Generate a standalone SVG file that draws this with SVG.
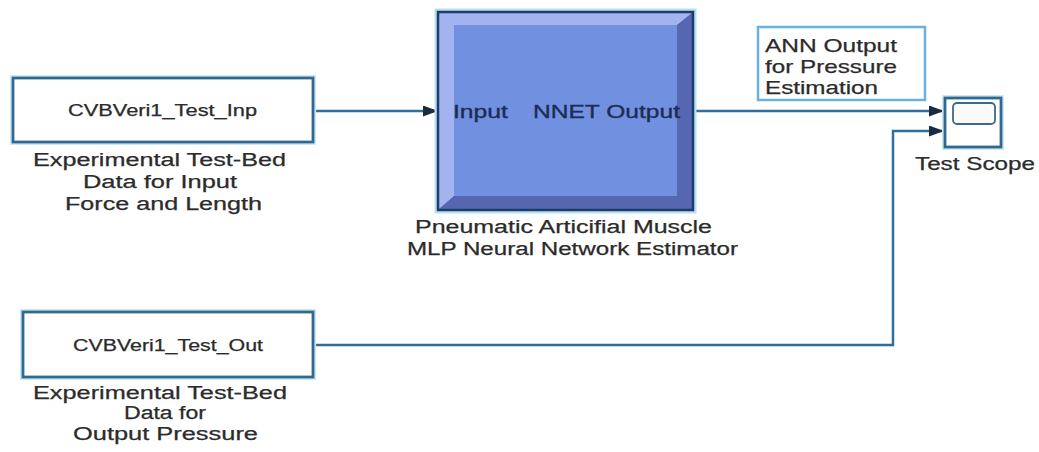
<svg xmlns="http://www.w3.org/2000/svg" width="1039" height="452" viewBox="0 0 1039 452">
<defs>
<style>
.t{font-family:"Liberation Sans",Arial,sans-serif;fill:#2b2b2b;stroke:#2b2b2b;stroke-width:0.25;}
.halo{fill:none;stroke:#cfe8f5;stroke-width:6;}
.box{fill:#fff;stroke:#2e6a8f;stroke-width:2.8;}
.wire{fill:none;stroke:#2e6f9c;stroke-width:2.5;}
.nn{font-family:"Liberation Sans",Arial,sans-serif;fill:#1c2c55;stroke:#1c2c55;stroke-width:0.35;font-size:18px;}
</style>
<marker id="arr" markerUnits="userSpaceOnUse" markerWidth="15" markerHeight="11" refX="15" refY="5.5" orient="auto">
<path d="M0,0 L15,5.5 L0,11 z" fill="#1a2a40"/>
</marker>
</defs>
<rect width="1039" height="452" fill="#fff"/>

<g id="connectors">
<path class="wire" d="M313,111 H438" marker-end="url(#arr)"/>
<path class="wire" d="M693,111 H944" marker-end="url(#arr)"/>
<path class="wire" d="M313,345 H893 V131 H944" marker-end="url(#arr)"/>
</g>

<g id="input-data">
<rect class="halo" x="13" y="78" width="300" height="64"/>
<rect class="box" x="13" y="78" width="300" height="64"/>
<text class="t" x="68" y="116" font-size="16" textLength="189" lengthAdjust="spacingAndGlyphs">CVBVeri1_Test_Inp</text>
<text class="t" x="33" y="166" font-size="18" textLength="253" lengthAdjust="spacingAndGlyphs">Experimental Test-Bed</text>
<text class="t" x="83" y="188" font-size="18" textLength="154" lengthAdjust="spacingAndGlyphs">Data for Input</text>
<text class="t" x="65" y="210" font-size="18" textLength="197" lengthAdjust="spacingAndGlyphs">Force and Length</text>
</g>

<g id="output-data">
<rect class="halo" x="23" y="312" width="290" height="65"/>
<rect class="box" x="23" y="312" width="290" height="65"/>
<text class="t" x="73" y="351" font-size="16" textLength="190" lengthAdjust="spacingAndGlyphs">CVBVeri1_Test_Out</text>
<text class="t" x="33" y="399" font-size="18" textLength="254" lengthAdjust="spacingAndGlyphs">Experimental Test-Bed</text>
<text class="t" x="124" y="419" font-size="18" textLength="82" lengthAdjust="spacingAndGlyphs">Data for</text>
<text class="t" x="73" y="440" font-size="18" textLength="185" lengthAdjust="spacingAndGlyphs">Output Pressure</text>
</g>

<g id="nnet">
<rect x="436" y="10" width="259" height="202" fill="none" stroke="#b8e0f2" stroke-width="3"/>
<rect x="438" y="12" width="255" height="198" fill="#7191e0"/>
<polygon points="439,13 692,13 677,25 454,25 454,196 439,209" fill="#a3b3f0"/>
<polygon points="692,13 692,209 439,209 454,196 677,196 677,25" fill="#5766b0"/>
<rect x="438" y="12" width="255" height="198" fill="none" stroke="#1d3d68" stroke-width="2.5"/>
<text class="nn" x="453" y="118" textLength="55" lengthAdjust="spacingAndGlyphs">Input</text>
<text class="nn" x="533" y="118" textLength="147" lengthAdjust="spacingAndGlyphs">NNET Output</text>
<text class="t" x="415" y="233" font-size="18" textLength="297" lengthAdjust="spacingAndGlyphs">Pneumatic Articifial Muscle</text>
<text class="t" x="407" y="255" font-size="18" textLength="331" lengthAdjust="spacingAndGlyphs">MLP Neural Network Estimator</text>
</g>

<g id="ann-label">
<rect x="758" y="27" width="167" height="73" fill="#fff" stroke="#6ab0e0" stroke-width="2.5"/>
<text class="t" x="765" y="52" font-size="19" textLength="132" lengthAdjust="spacingAndGlyphs">ANN Output</text>
<text class="t" x="765" y="73" font-size="19" textLength="132" lengthAdjust="spacingAndGlyphs">for Pressure</text>
<text class="t" x="765" y="94" font-size="19" textLength="113" lengthAdjust="spacingAndGlyphs">Estimation</text>
</g>

<g id="test-scope">
<rect class="halo" x="945" y="98" width="56" height="49"/>
<rect class="box" x="945" y="98" width="56" height="49"/>
<rect x="953" y="103" width="42" height="21" rx="4" fill="#fafafa" stroke="#3a6a8a" stroke-width="1.8"/>
<text class="t" x="915" y="170" font-size="18" textLength="120" lengthAdjust="spacingAndGlyphs">Test Scope</text>
</g>
</svg>
